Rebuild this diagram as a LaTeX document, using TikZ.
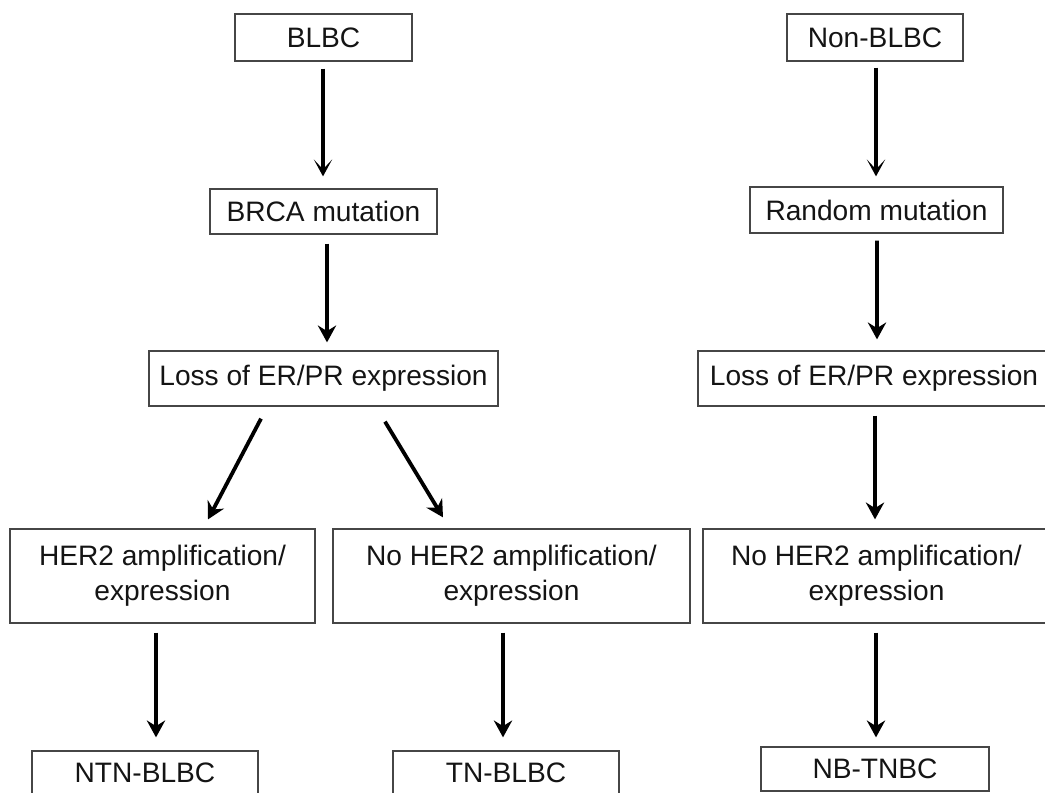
\documentclass[tikz,border=0pt]{standalone}
\usepackage{fontspec}
\setmainfont{Liberation Sans}
\usepackage{tikz}
\usetikzlibrary{arrows.meta,calc}
\definecolor{boxline}{RGB}{70,70,70}
\definecolor{ink}{RGB}{20,20,20}
\tikzset{
  blk/.style 2 args={draw=boxline, line width=0.9pt, inner sep=0pt, align=center, text=ink,
    minimum width=#1*0.025cm, minimum height=#2*0.025cm, font=\fontsize{20}{25}\selectfont},
  arr/.style={-{Stealth[length=12pt, width=13pt, inset=4pt]}, line width=2.7pt},
  arrv/.style={-{Stealth[length=12pt, width=13pt, inset=7pt]}, line width=2.3pt}
}

\begin{document}
\begin{tikzpicture}[x=0.025cm, y=-0.025cm]
\useasboundingbox (0,0) rectangle (1045,792);
\clip (0,0) rectangle (1045,792);
% basal-like branch
\node[blk={177}{47}] (blbc) at (323.5,37.5) {BLBC};
\node[blk={227}{45}] (brca) at (323.5,211.5) {BRCA mutation};
\node[blk={349}{55}] (lossA) at (323.5,378.5) {Loss of ER/PR expression};
\node[blk={305}{94}] (her2) at (162.5,576) {HER2 amplification/\\expression};
\node[blk={357}{94}] (noherA) at (511.5,576) {No HER2 amplification/\\expression};
\node[blk={226}{44}] (ntn) at (145,773) {NTN-BLBC};
\node[blk={226}{44}] (tn) at (506,773) {TN-BLBC};
% non-basal branch
\node[blk={176}{47}] (nonblbc) at (875,37.5) {Non-BLBC};
\node[blk={253}{46}] (rand) at (876.5,210) {Random mutation};
\node[blk={352}{55}] (lossB) at (874,378.5) {Loss of ER/PR expression};
\node[blk={347}{94}] (noherB) at (876.5,576) {No HER2 amplification/\\expression};
\node[blk={228}{44}] (nbtnbc) at (875,769) {NB-TNBC};
% arrows
\draw[arrv] ($(blbc.south)+(-0.5,7)$) -- ($(brca.north)+(-0.5,-12)$);
\draw[arrv] ($(nonblbc.south)+(1,6)$) -- ($(rand.north)+(-0.5,-10)$);
\draw[arr] ($(brca.south)+(3.5,9)$) -- ($(lossA.north)+(3.5,-8)$);
\draw[arr] ($(rand.south)+(0.5,7)$) -- ($(lossB.north)+(3,-11)$);
\draw[arr] ($(lossA.south)+(-62.5,12)$) -- ($(her2.north)+(45.5,-9)$);
\draw[arr] ($(lossA.south)+(61.5,15)$) -- ($(noherA.north)+(-68.5,-11)$);
\draw[arr] ($(lossB.south)+(1,9)$) -- ($(noherB.north)+(-1.5,-9)$);
\draw[arr] ($(her2.south)+(-6.5,9)$) -- ($(ntn.north)+(11,-13)$);
\draw[arr] ($(noherA.south)+(-8.5,9)$) -- ($(tn.north)+(-3,-13)$);
\draw[arr] ($(noherB.south)+(-0.5,9)$) -- ($(nbtnbc.north)+(1,-9)$);
\end{tikzpicture}
\end{document}
